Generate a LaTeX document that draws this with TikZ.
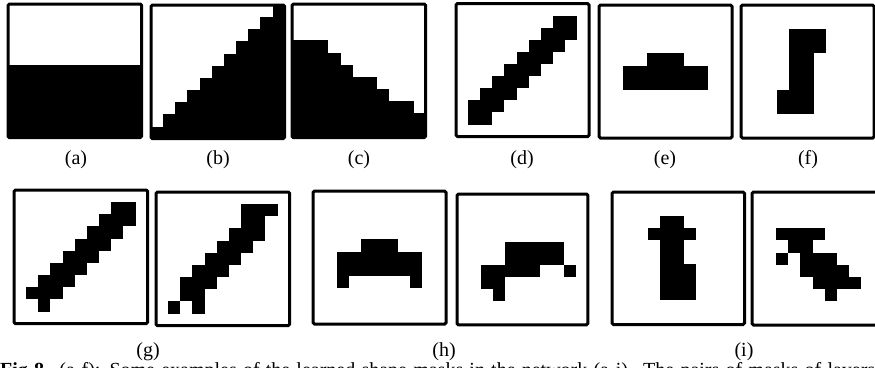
\documentclass[tikz,border=0pt]{standalone}
\usepackage{fontspec}
\setmainfont{Liberation Serif}
\begin{document}
\begin{tikzpicture}[x=1pt,y=-1pt,
  frame/.style={line width=3pt,rounded corners=1.5pt},
  sublabel/.style={font=\fontsize{20}{23}\selectfont,inner sep=0pt,anchor=base}]
\useasboundingbox (0,0) rectangle (875,367);
\clip (0,0) rectangle (875,367);

% top row
% (a)
\begin{scope}[shift={(8,4)},x=12.15pt,y=-12.15pt]
  \fill (0,5) rectangle (11,11);
  \draw[frame] (0,0) rectangle (11,11);
\end{scope}
% (b)
\begin{scope}[shift={(151,5)},x=12.15pt,y=-12.15pt]
  \foreach \r in {0,...,10} \fill ({10-\r},\r) rectangle (11,\r+1);
  \draw[frame] (0,0) rectangle (11,11);
\end{scope}
% (c)
\begin{scope}[shift={(292,4)},x=12.15pt,y=-12.15pt]
  \foreach \c/\r in {0/3,1/3,2/3,3/4,4/5,5/6,6/6,7/7,8/8,9/8,10/9}
    \fill (\c,\r) rectangle (\c+1,11);
  \draw[frame] (0,0) rectangle (11,11);
\end{scope}
% (d)
\begin{scope}[shift={(456,3.5)},x=12.1pt,y=-12.1pt]
  \foreach \k in {0,...,7} \fill ({8-\k},{1+\k}) rectangle ({10-\k},{3+\k});
  \draw[frame] (0,0) rectangle (11,11);
\end{scope}
% (e)
\begin{scope}[shift={(599,5)},x=12.1pt,y=-12.1pt]
  \fill (4,4) rectangle (7,5);
  \fill (2,5) rectangle (9,7);
  \draw[frame] (0,0) rectangle (11,11);
\end{scope}
% (f)
\begin{scope}[shift={(741,5)},x=12.1pt,y=-12.1pt]
  \fill (4,2) rectangle (7,4);
  \fill (4,4) rectangle (6,7);
  \fill (3,7) rectangle (6,9);
  \draw[frame] (0,0) rectangle (11,11);
\end{scope}

% bottom row
% (g) left
\begin{scope}[shift={(14,190)},x=12.15pt,y=-12.15pt]
  \foreach \k in {0,...,6} \fill ({8-\k},{1+\k}) rectangle ({10-\k},{3+\k});
  \fill (1,8) rectangle (2,9);
  \fill (2,9) rectangle (3,10);
  \draw[frame] (0,0) rectangle (11,11);
\end{scope}
% (g) right
\begin{scope}[shift={(156,192)},x=12.15pt,y=-12.15pt]
  \fill (7,1) rectangle (10,2);
  \fill (7,2) rectangle (9,3);
  \fill (6,3) rectangle (9,4);
  \fill (5,4) rectangle (8,5);
  \fill (4,5) rectangle (7,6);
  \fill (3,6) rectangle (6,7);
  \fill (2,7) rectangle (5,8);
  \fill (2,8) rectangle (4,9);
  \fill (1,9) rectangle (2,10);
  \fill (3,9) rectangle (4,10);
  \draw[frame] (0,0) rectangle (11,11);
\end{scope}
% (h) left
\begin{scope}[shift={(313,191)},x=12.1pt,y=-12.1pt]
  \fill (4,4) rectangle (7,5);
  \fill (2,5) rectangle (9,7);
  \fill (2,7) rectangle (3,8);
  \fill (8,7) rectangle (9,8);
  \draw[frame] (0,0) rectangle (11,11);
\end{scope}
% (h) right
\begin{scope}[shift={(457,194)},x=11.9pt,y=-11.9pt]
  \fill (4,4) rectangle (9,6);
  \fill (2,6) rectangle (7,7);
  \fill (9,6) rectangle (10,7);
  \fill (2,7) rectangle (4,8);
  \fill (3,8) rectangle (4,9);
  \draw[frame] (0,0) rectangle (11,11);
\end{scope}
% (i) left
\begin{scope}[shift={(612,192)},x=12.05pt,y=-12.05pt]
  \fill (4,2) rectangle (6,3);
  \fill (3,3) rectangle (7,4);
  \fill (4,4) rectangle (6,6);
  \fill (4,6) rectangle (7,9);
  \draw[frame] (0,0) rectangle (11,11);
\end{scope}
% (i) right
\begin{scope}[shift={(752,192)},x=12.1pt,y=-12.1pt]
  \fill (2,3) rectangle (6,4);
  \fill (3,4) rectangle (5,5);
  \fill (2,5) rectangle (3,6);
  \fill (4,5) rectangle (7,6);
  \fill (4,6) rectangle (8,7);
  \fill (5,7) rectangle (9,8);
  \fill (6,8) rectangle (7,9);
  \draw[frame] (0,0) rectangle (11,11);
\end{scope}

% labels
\node[sublabel] (la) at (76,164) {(a)};
\node[sublabel] (lb) at (218,164) {(b)};
\node[sublabel] (lc) at (359,164) {(c)};
\node[sublabel] (ld) at (522,164) {(d)};
\node[sublabel] (le) at (665,164) {(e)};
\node[sublabel] (lf) at (808,164) {(f)};
\node[sublabel] (lg) at (148,356) {(g)};
\node[sublabel] (lh) at (444,356) {(h)};
\node[sublabel] (li) at (744,356) {(i)};

% caption, cut by the page edge
\node[sublabel,anchor=base west] (caption) at (0,376)
  {\makebox[875pt][s]{\textbf{Fig 8.} (a-f): Some examples of the learned shape masks in the network (a-i). The pairs of masks of layers}};
\end{tikzpicture}
\end{document}
